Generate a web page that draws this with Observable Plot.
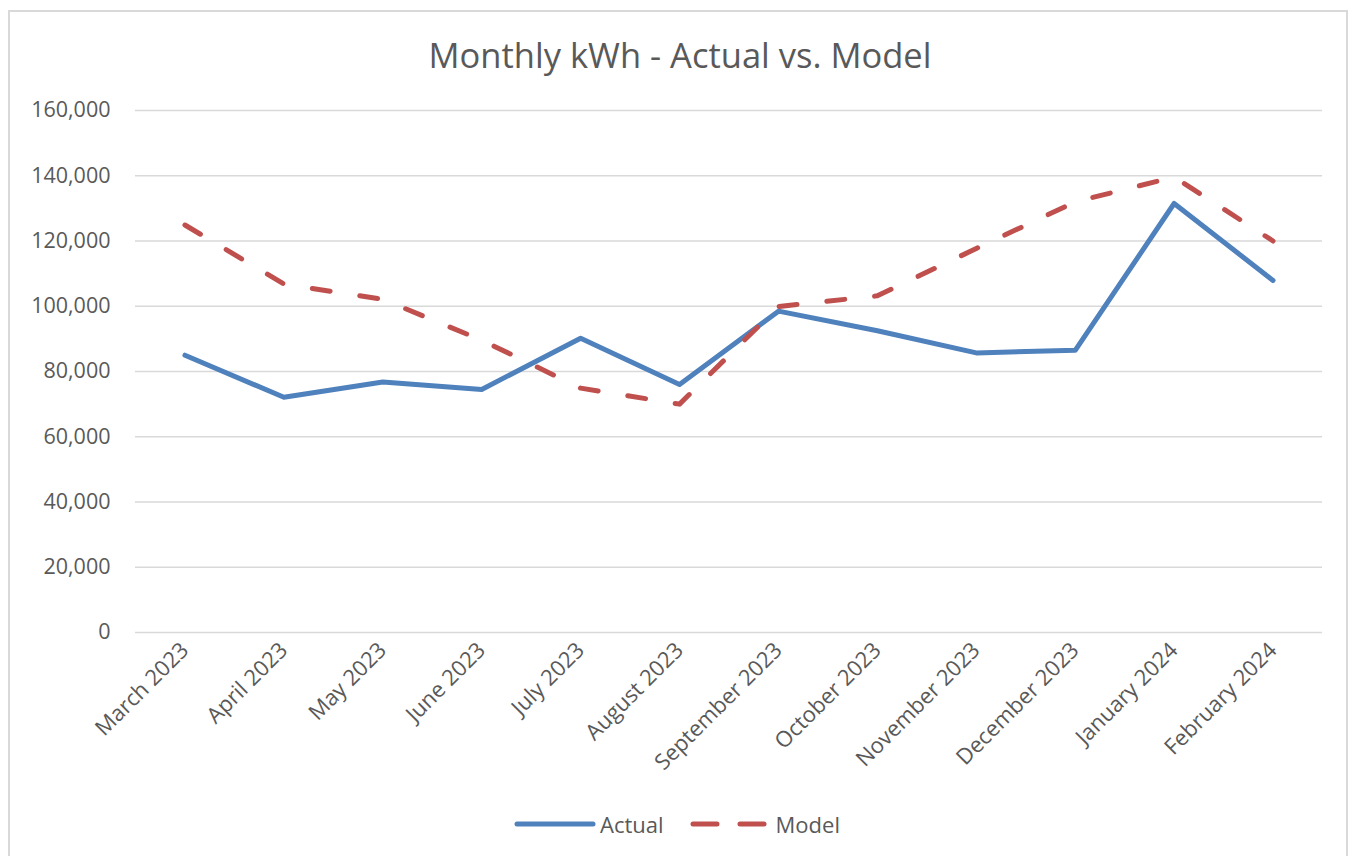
<!DOCTYPE html>
<html>
<head>
<meta charset="utf-8">
<script src="https://cdn.jsdelivr.net/npm/d3@7"></script>
<script src="https://cdn.jsdelivr.net/npm/@observablehq/plot@0.6"></script>
<style>
  html, body { margin: 0; padding: 0; background: #ffffff; }
  #wrap { position: relative; width: 1354px; height: 856px; overflow: hidden; font-family: "Open Sans", "Noto Sans", sans-serif; color: #595959; }
  #frame { position: absolute; left: 8px; top: 10px; width: 1340px; height: 860px; border: 2px solid #d9d9d9; box-sizing: border-box; }
  #title { position: absolute; left: 3px; top: 31px; width: 1354px; text-align: center; font-size: 34.5px; line-height: 48px; color: #595959; }
  #chart { position: absolute; left: 0; top: 95px; }
  #legend { position: absolute; left: 0; top: 807px; width: 1354px; height: 34px; display: flex; justify-content: center; align-items: center; font-size: 22px; color: #595959; }
  #legend .item { display: flex; align-items: center; }
  #legend svg { display: block; }
</style>
</head>
<body>
<div id="wrap">
  <div id="frame"></div>
  <div id="title">Monthly kWh - Actual vs. Model</div>
  <div id="chart"></div>
  <div id="legend"></div>
</div>
<script>
const months = ["March 2023", "April 2023", "May 2023", "June 2023", "July 2023", "August 2023",
  "September 2023", "October 2023", "November 2023", "December 2023", "January 2024", "February 2024"];
const actual = [85000, 72100, 76800, 74500, 90200, 76000, 98500, 92500, 85700, 86500, 131500, 107900];
const model = [124900, 106800, 102100, 89600, 74900, 70000, 99900, 103200, 117700, 132000, 139600, 120000];
const yTicks = [0, 20000, 40000, 60000, 80000, 100000, 120000, 140000, 160000];
const seriesNames = ["Actual", "Model"];
const seriesColors = ["#4f81bd", "#c0504d"];

const actualData = months.map((m, i) => ({month: m, value: actual[i]}));
const modelData = months.map((m, i) => ({month: m, value: model[i]}));

const chart = Plot.plot({
  width: 1354,
  height: 695,
  marginTop: 15,
  marginLeft: 135,
  marginRight: 32,
  marginBottom: 158,
  style: {fontFamily: '"Open Sans", "Noto Sans", sans-serif', fontSize: "21px", color: "#595959", background: "transparent"},
  x: {type: "point", domain: months, padding: 0.5, round: false, label: null},
  y: {domain: [0, 160000], label: null},
  marks: [
    Plot.gridY(yTicks, {stroke: "#d9d9d9", strokeOpacity: 1, strokeWidth: 1.5}),
    Plot.axisY(yTicks, {tickSize: 0, tickPadding: 25, tickFormat: d3.format(","), label: null, fontSize: 21.5}),
    Plot.axisX({tickSize: 0, tickRotate: -45, tickPadding: 14, label: null, fontSize: 22}),
    Plot.lineY(actualData, {x: "month", y: "value", stroke: seriesColors[0], strokeWidth: 5, strokeLinejoin: "round", strokeLinecap: "round"}),
    Plot.lineY(modelData, {x: "month", y: "value", stroke: seriesColors[1], strokeWidth: 5, strokeDasharray: "18,30", strokeLinecap: "round", strokeLinejoin: "round"})
  ]
});
document.getElementById("chart").appendChild(chart);

// Legend
const legend = document.getElementById("legend");
const ns = "http://www.w3.org/2000/svg";
seriesNames.forEach((name, i) => {
  const item = document.createElement("div");
  item.className = "item";
  item.style.marginRight = i === 0 ? "26px" : "0px";
  const sw = document.createElementNS(ns, "svg");
  sw.setAttribute("width", "84");
  sw.setAttribute("height", "12");
  const ln = document.createElementNS(ns, "line");
  ln.setAttribute("x1", "3"); ln.setAttribute("x2", "79");
  ln.setAttribute("y1", "6"); ln.setAttribute("y2", "6");
  ln.setAttribute("stroke", seriesColors[i]);
  ln.setAttribute("stroke-width", "5");
  ln.setAttribute("stroke-linecap", "round");
  if (i === 1) ln.setAttribute("stroke-dasharray", "24,23");
  sw.appendChild(ln);
  const tx = document.createElement("span");
  tx.textContent = name;
  tx.style.marginLeft = "2px";
  item.appendChild(sw);
  item.appendChild(tx);
  legend.appendChild(item);
});
</script>
</body>
</html>
